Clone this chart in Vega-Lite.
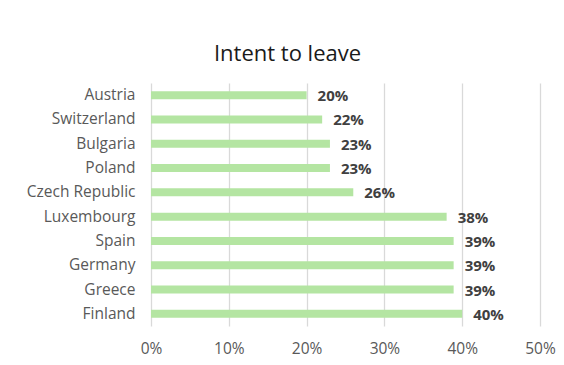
{
  "$schema": "https://vega.github.io/schema/vega-lite/v6.json",
  "width": 389,
  "height": 243,
  "autosize": "none",
  "padding": {"left": 151, "top": 83, "right": 24, "bottom": 39},
  "background": "white",
  "config": {"view": {"stroke": null}},
  "title": {
    "text": "Intent to leave",
    "anchor": "middle",
    "frame": "group",
    "dx": -58,
    "offset": 17,
    "fontSize": 22,
    "fontWeight": "normal",
    "font": "Open Sans",
    "color": "#1a1a1a"
  },
  "data": {
    "values": [
      {"country": "Austria", "value": 0.20},
      {"country": "Switzerland", "value": 0.22},
      {"country": "Bulgaria", "value": 0.23},
      {"country": "Poland", "value": 0.23},
      {"country": "Czech Republic", "value": 0.26},
      {"country": "Luxembourg", "value": 0.38},
      {"country": "Spain", "value": 0.389},
      {"country": "Germany", "value": 0.389},
      {"country": "Greece", "value": 0.389},
      {"country": "Finland", "value": 0.40}
    ]
  },
  "encoding": {
    "y": {
      "field": "country",
      "type": "nominal",
      "sort": null,
      "scale": {"paddingInner": 0.67, "paddingOuter": 0.335},
      "axis": {
        "title": null,
        "domain": false,
        "ticks": false,
        "labelPadding": 16,
        "labelFontSize": 15.5,
        "labelFont": "Open Sans",
        "labelColor": "#595959"
      }
    },
    "x": {
      "field": "value",
      "type": "quantitative",
      "scale": {"domain": [0, 0.5]},
      "axis": {
        "title": null,
        "format": ".0%",
        "values": [0, 0.1, 0.2, 0.3, 0.4, 0.5],
        "domain": false,
        "ticks": false,
        "grid": true,
        "gridColor": "#d9d9d9",
        "gridWidth": 1.3,
        "labelFlush": false,
        "labelPadding": 15,
        "labelFontSize": 15.5,
        "labelFont": "Open Sans",
        "labelColor": "#595959"
      }
    }
  },
  "layer": [
    {"mark": {"type": "bar", "color": "#b4e5a2"}},
    {
      "mark": {
        "type": "text",
        "align": "left",
        "baseline": "middle",
        "dx": 11,
        "dy": 1,
        "fontSize": 15,
        "fontWeight": "bold",
        "font": "Open Sans",
        "color": "#404040"
      },
      "encoding": {
        "text": {"field": "value", "type": "quantitative", "format": ".0%"}
      }
    }
  ]
}
